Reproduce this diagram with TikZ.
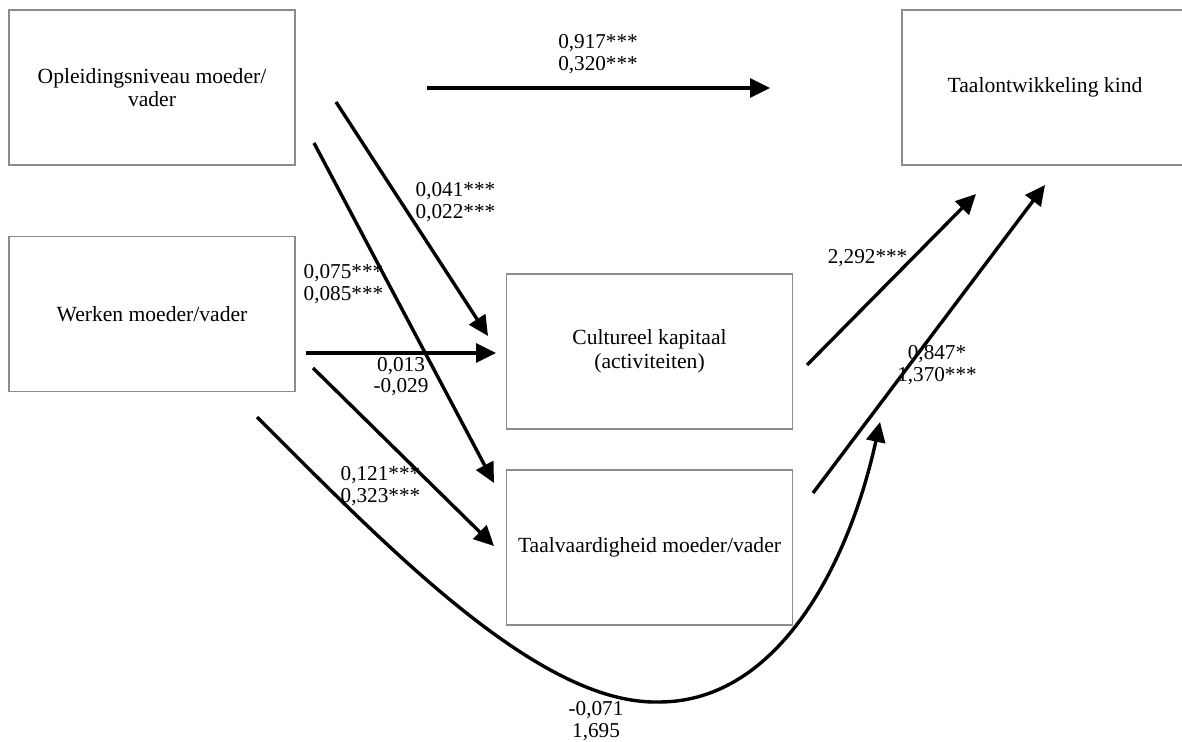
\documentclass[tikz,border=0pt]{standalone}
\usepackage{fontspec}
\setmainfont{Liberation Serif}
\usetikzlibrary{arrows.meta, positioning, calc}
\definecolor{boxgray}{HTML}{8C8C8C}

\begin{document}
\begin{tikzpicture}[x=0.5pt, y=-0.5pt, >={Triangle[length=10pt, width=9.5pt]}, line width=1.7pt,
  varbox/.style={draw=boxgray, line width=0.7pt, minimum width=143pt, minimum height=77.5pt,
    align=center, inner sep=0pt, font=\fontsize{10.8}{11.8}\selectfont},
  coef/.style={font=\fontsize{10.6}{10.8}\selectfont, align=center, inner sep=0pt}]

% Canvas (box on the right runs off the edge)
\useasboundingbox (0,0) rectangle (1182,742);

% --- Variables ---
\node[varbox] (opl)   at (152,87.5)    {Opleidingsniveau moeder/\\vader};
\node[varbox] (werk)  at (152,314)     {Werken moeder/vader};
\node[varbox] (cult)  at (649.5,351.5) {Cultureel kapitaal\\(activiteiten)};
\node[varbox] (taalv) at (649.5,547.5) {Taalvaardigheid moeder/vader};
\node[varbox] (kind)  at (1045,87.5)   {Taalontwikkeling kind};

% --- Arrow end points (arrows float between the boxes) ---
\coordinate (oplK)   at (427,88);   \coordinate (kindO)  at (770,88);
\coordinate (oplC)   at (336,102);  \coordinate (cultO)  at (488,336);
\coordinate (oplT)   at (314,143);  \coordinate (taalvO) at (494,483);
\coordinate (werkC)  at (306,353);  \coordinate (cultW)  at (496,353);
\coordinate (werkT)  at (313,368);  \coordinate (taalvW) at (494,546);
\coordinate (cultK)  at (807,365);  \coordinate (kindC)  at (976,194);
\coordinate (taalvK) at (813,493);  \coordinate (kindT)  at (1045,185);
\coordinate (werkK)  at (257,417);  \coordinate (kindW)  at (880,422);

% Straight paths
\foreach \s/\t in {oplK/kindO, oplC/cultO, oplT/taalvO, werkC/cultW,
                   werkT/taalvW, cultK/kindC, taalvK/kindT}
  \draw[->] (\s) -- (\t);

% Long curved path under the mediators
\draw[->] (werkK) .. controls (390,550) and (540,705) .. (659,702)
  .. controls (780,702) and (850,560) .. (kindW);

% --- Coefficients ---
\node[coef] (bOK) at (598,54) {0,917***\\0,320***};
\node[coef, align=left, anchor=west] (bOC) at (414,202) {0,041***\\0,022***};
\node[coef, align=left, anchor=west] (bOT) at (302,284) {0,075***\\0,085***};
\node[coef] (bWC) at (401,376.5) {0,013\\-0,029};
\node[coef, align=left, anchor=west] (bWT) at (339,486) {0,121***\\0,323***};
\node[coef, anchor=east] (bCK) at (909,258) {2,292***};
\node[coef] (bTK) at (937,365) {0,847*\\1,370***};
\node[coef] (bWK) at (596,721) {-0,071\\1,695};

\end{tikzpicture}
\end{document}
